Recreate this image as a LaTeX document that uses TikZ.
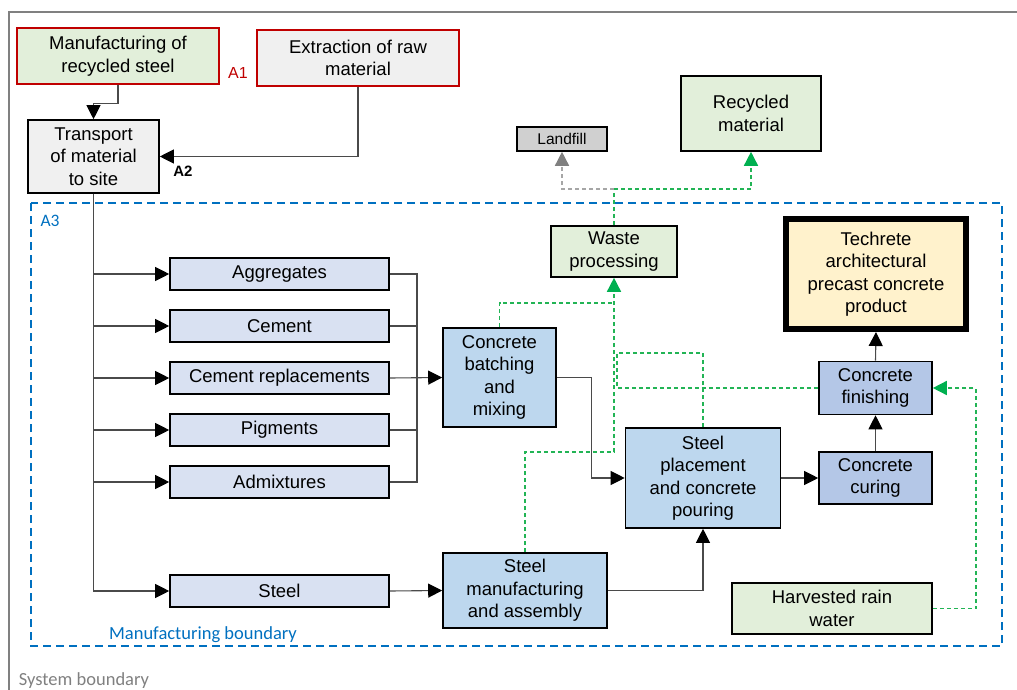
\documentclass[tikz,border=0pt]{standalone}
\usepackage{fontspec}
\setmainfont{Liberation Sans}
\newfontfamily\calib{Carlito}
\usetikzlibrary{arrows.meta}
\definecolor{redline}{HTML}{C00000}
\definecolor{greenfill}{HTML}{E2EFDA}
\definecolor{greyfill}{HTML}{F0F0F0}
\definecolor{matfill}{HTML}{D9E1F2}
\definecolor{procfill}{HTML}{BDD7EE}
\definecolor{finfill}{HTML}{B4C7E7}
\definecolor{prodfill}{HTML}{FFF2CC}
\definecolor{landfill}{HTML}{D0D0D0}
\definecolor{bndblue}{HTML}{0070C0}
\definecolor{wasteline}{HTML}{22B455}
\definecolor{wastetip}{HTML}{00B050}
\definecolor{conline}{HTML}{4A4A4A}
\tikzset{
  box/.style={draw=black, line width=1.6pt, inner sep=0pt, align=center,
    font=\fontsize{18.5}{22.5}\selectfont},
  inbox/.style={box, draw=redline, line width=1.3pt},
  line/.style={draw=conline, line width=1.1pt},
  arr/.style={line, -{Triangle[length=14pt,width=14pt,color=black]}},
  gdash/.style={draw=wasteline, line width=1.5pt, dash pattern=on 4pt off 3pt},
  garr/.style={gdash, -{Triangle[length=14pt,width=14pt,color=wastetip]}},
  grarr/.style={draw=gray!70, line width=1.5pt, dash pattern=on 4pt off 3pt,
    -{Triangle[length=14pt,width=14pt,color=gray]}}
}
\begin{document}
\begin{tikzpicture}[x=1pt,y=-1pt]
  \useasboundingbox (0,0) rectangle (1017,690);
  % System and manufacturing boundaries
  \draw[gray, line width=1.5pt] (1017,12) -- (9,12) -- (9,690);
  \node[text=gray, font=\calib\fontsize{18.5}{20}\selectfont] (sysb) at (84,681) {System boundary};
  \draw[bndblue, line width=1.5pt, dash pattern=on 8pt off 5pt] (31,203) rectangle (1002,646);
  \node[text=bndblue, font=\calib\fontsize{17.5}{20}\selectfont] (a3) at (50,221) {A3};
  \node[text=bndblue, font=\calib\fontsize{18.5}{20}\selectfont] (manb) at (203,635) {Manufacturing boundary};

  % Inputs from outside
  \node[inbox, fill=greenfill, minimum width=202, minimum height=56] (recsteel) at (118,56) {Manufacturing of\\recycled steel};
  \node[inbox, fill=greyfill, minimum width=202, minimum height=56] (extract) at (358,58) {Extraction of raw\\material};
  \node[box, fill=greyfill, minimum width=131, minimum height=73] (transport) at (93.5,156.5) {Transport\\of material\\to site};
  \node[text=redline, font=\fontsize{16}{18}\selectfont] (a1) at (238,73) {A1};
  \node[font=\bfseries\fontsize{15}{18}\selectfont] (a2) at (183,171) {A2};
  \draw[arr] (recsteel.south) -- ++(0,19) -| (transport.north);
  \draw[arr] (extract.south) |- (transport.east);

  % Materials
  \foreach \n/\y/\txt in {agg/274/Aggregates, cem/326/Cement, crep/378/Cement replacements,
      pig/430/Pigments, adm/482/Admixtures, steel/591/Steel}
  {
    \node[box, fill=matfill, minimum width=219, minimum height=32] (\n) at (279.5,\y) {\txt};
    \draw[arr] (transport.south) |- (\n.west);
  }
  \coordinate (mix) at (417,378);
  \foreach \n in {agg,cem,pig,adm}
    \draw[line] (\n.east) -| (mix);

  % Production
  \node[box, fill=procfill, minimum width=113, minimum height=99] (batch) at (499.5,377.5) {Concrete\\batching\\and\\mixing};
  \node[box, fill=procfill, minimum width=164, minimum height=75] (steelman) at (525,590.5) {Steel\\manufacturing\\and assembly};
  \node[box, fill=procfill, minimum width=155, minimum height=100] (place) at (703,478) {Steel\\placement\\and concrete\\pouring};
  \node[box, fill=finfill, minimum width=113, minimum height=52] (curing) at (875.5,478) {Concrete\\curing};
  \node[box, fill=finfill, minimum width=113, minimum height=53] (finish) at (875.5,388) {Concrete\\finishing};
  \node[box, fill=prodfill, line width=6pt, minimum width=180, minimum height=110] (product) at (876,274) {Techrete\\architectural\\precast concrete\\product};
  \draw[arr] (crep.east) -- (batch.west);
  \draw[arr] (steel.east) -- (steelman.west);
  \draw[arr] (batch.east) -- ++(35,0) |- (place.west);
  \draw[arr] (steelman.east) -| (place.south);
  \draw[arr] (place.east) -- (curing.west);
  \draw[arr] (curing.north) -- (finish.south);
  \draw[arr] (finish.north) -- (product.south);

  % Waste and water
  \node[box, fill=greenfill, minimum width=126, minimum height=51] (waste) at (614,251.5) {Waste\\processing};
  \node[box, fill=landfill, minimum width=90, minimum height=24, font=\fontsize{15.5}{18}\selectfont] (landf) at (562,139) {Landfill};
  \node[box, fill=greenfill, minimum width=140, minimum height=75] (recyc) at (751,113.5) {Recycled\\material};
  \node[box, fill=greenfill, minimum width=200, minimum height=51] (rain) at (832,608.5) {Harvested rain\\water};
  \coordinate (wtop) at (614,189);
  \coordinate (wbatch) at (614,303);
  \coordinate (wjoin) at (614,452);
  \draw[gdash] (waste.north) -- (wtop);
  \draw[garr] (wtop) -| (recyc.south);
  \draw[grarr] (wtop) -| (landf.south);
  \draw[gdash] (batch.north) |- (wbatch);
  \draw[garr] (steelman.north) |- (wjoin) -- (waste.south);
  \draw[gdash] (place.north) |- (617,353) -- (617,388) -- (finish.west);
  \draw[garr] (rain.east) -- ++(43,0) |- (finish.east);
\end{tikzpicture}
\end{document}
